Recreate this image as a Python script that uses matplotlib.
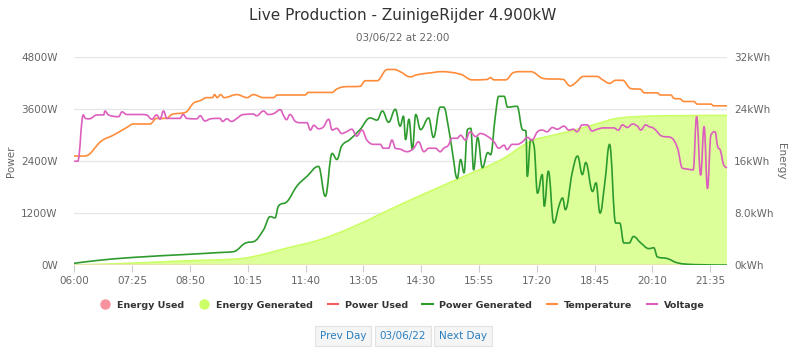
import matplotlib
matplotlib.use("Agg")
import matplotlib.pyplot as plt
from matplotlib.lines import Line2D
from matplotlib.path import Path
from matplotlib.patches import PathPatch
import numpy as np

# ---- data ----
tick_labels = ["06:00", "07:25", "08:50", "10:15", "11:40", "13:05",
               "14:30", "15:55", "17:20", "18:45", "20:10", "21:35"]

gen_times = ["06:00", "06:30", "07:25", "08:50", "09:34", "09:54", "10:14", "10:23",
             "10:38", "10:48", "10:55", "11:00", "11:13", "11:27", "11:42", "11:59",
             "12:09", "12:19", "12:26", "12:33", "12:45", "13:00", "13:15", "13:25",
             "13:33", "13:42", "13:52", "13:59", "14:04", "14:07", "14:12", "14:17",
             "14:22", "14:29", "14:41", "14:48", "14:58", "15:03", "15:11", "15:16",
             "15:23", "15:28", "15:33", "15:38", "15:43", "15:47", "15:53", "16:00",
             "16:08", "16:12", "16:19", "16:24", "16:32", "16:37", "16:51", "16:59",
             "17:04", "17:06", "17:11", "17:16", "17:21", "17:28", "17:31", "17:37",
             "17:45", "17:53", "17:58", "18:02", "18:12", "18:20", "18:27", "18:32",
             "18:42", "18:47", "18:53", "19:00", "19:07", "19:16", "19:22", "19:28",
             "19:36", "19:42", "19:53", "20:05", "20:12", "20:17", "20:32", "20:47",
             "21:11", "22:00"]
power_generated = [40, 100, 175, 250, 290, 310, 520, 540,
                   810, 1120, 1090, 1360, 1470, 1820, 2050, 2280,
                   1590, 2580, 2440, 2750, 2900, 3130, 3400, 3350,
                   3560, 3300, 3600, 3210, 3440, 2900, 3370, 2670,
                   3480, 3130, 3400, 2950, 3650, 3650, 3100, 2600,
                   2000, 2440, 2130, 3130, 3160, 2200, 2950, 2250,
                   2600, 2550, 3440, 3900, 3900, 3650, 3670, 3130,
                   3100, 2050, 2900, 2750, 1660, 2090, 1360, 2170,
                   970, 1390, 1550, 1280, 2130, 2520, 2090, 2370,
                   1700, 1900, 1200, 1900, 2790, 970, 970, 510,
                   510, 660, 510, 380, 400, 190, 150, 50,
                   10, 0]

temp_times = ["06:00", "06:15", "06:40", "06:57", "07:17", "07:27", "07:51", "08:01",
              "08:16", "08:23", "08:45", "08:55", "09:05", "09:15", "09:23", "09:26",
              "09:30", "09:35", "09:40", "09:59", "10:14", "10:23", "10:38", "10:53",
              "10:58", "11:39", "11:44", "12:19", "12:26", "12:36", "13:00", "13:08",
              "13:25", "13:40", "13:50", "13:59", "14:14", "14:24", "14:48", "14:58",
              "15:28", "15:45", "16:07", "16:12", "16:17", "16:34", "16:46", "16:56",
              "17:11", "17:30", "17:59", "18:09", "18:16", "18:29", "18:48", "18:58",
              "19:07", "19:16", "19:26", "19:38", "19:53", "19:58", "20:17", "20:22",
              "20:37", "20:42", "20:51", "20:56", "21:11", "21:16", "21:36", "21:40",
              "22:00"]
temperature = [25.2, 25.2, 28.7, 30.0, 31.8, 32.6, 32.6, 33.9,
               33.9, 34.8, 35.4, 37.4, 38.0, 38.7, 38.7, 39.4,
               38.7, 39.4, 38.7, 39.4, 38.7, 39.4, 38.7, 38.7,
               39.3, 39.3, 39.9, 39.9, 40.7, 41.2, 41.3, 42.6,
               42.6, 45.2, 45.2, 44.7, 43.5, 44.0, 44.5, 44.7,
               44.1, 42.8, 42.9, 43.3, 42.8, 42.8, 44.5, 44.7,
               44.7, 43.1, 42.9, 41.4, 42.0, 43.6, 43.6, 42.7,
               42.0, 42.7, 42.7, 40.8, 40.6, 39.8, 39.8, 39.3,
               39.3, 38.5, 38.4, 37.8, 37.8, 37.2, 37.2, 36.8,
               36.8]

volt_times = ["06:00", "06:05", "06:13", "06:16", "06:22", "06:33", "06:43", "06:45",
              "06:50", "07:05", "07:10", "07:17", "07:37", "07:46", "07:54", "08:01",
              "08:06", "08:11", "08:16", "08:35", "08:40", "08:45", "09:00", "09:05",
              "09:12", "09:20", "09:34", "09:38", "09:44", "09:51", "09:59", "10:06",
              "10:23", "10:28", "10:38", "10:45", "10:53", "11:03", "11:08", "11:12",
              "11:17", "11:25", "11:32", "11:42", "11:47", "11:52", "11:59", "12:06",
              "12:14", "12:19", "12:26", "12:33", "12:40", "12:48", "12:55", "13:03",
              "13:10", "13:20", "13:30", "13:34", "13:42", "13:47", "13:52", "13:59",
              "14:09", "14:19", "14:26", "14:34", "14:41", "14:51", "14:58", "15:03",
              "15:10", "15:15", "15:23", "15:28", "15:35", "15:42", "15:50", "15:57",
              "16:07", "16:17", "16:24", "16:32", "16:36", "16:44", "16:51", "16:59",
              "17:06", "17:13", "17:21", "17:28", "17:35", "17:43", "17:50", "18:00",
              "18:07", "18:14", "18:19", "18:27", "18:34", "18:41", "18:49", "18:58",
              "19:13", "19:20", "19:26", "19:33", "19:41", "19:48", "19:53", "20:00",
              "20:05", "20:12", "20:24", "20:37", "20:47", "20:54", "21:01", "21:10",
              "21:15", "21:21", "21:26", "21:31", "21:36", "21:42", "21:46", "21:50",
              "21:55", "22:00"]
voltage = [224.0, 224.0, 234.7, 233.9, 233.8, 234.7, 234.7, 235.6,
           234.7, 234.3, 235.4, 234.8, 234.8, 234.7, 233.7, 234.7,
           233.7, 235.6, 233.9, 233.9, 234.8, 233.9, 233.8, 234.5,
           233.3, 233.8, 233.9, 233.2, 233.8, 233.2, 233.9, 234.7,
           234.9, 234.5, 235.6, 234.8, 235.0, 235.9, 234.4, 233.6,
           234.8, 233.2, 232.9, 232.9, 231.2, 232.3, 231.5, 231.9,
           233.7, 231.2, 231.6, 230.4, 230.8, 231.4, 229.8, 231.2,
           228.9, 227.9, 227.9, 227.0, 227.0, 228.9, 227.0, 226.8,
           226.2, 227.0, 228.5, 226.2, 227.0, 227.0, 226.2, 227.0,
           227.7, 229.3, 229.3, 230.0, 228.9, 230.8, 229.7, 230.4,
           229.8, 228.5, 227.0, 227.7, 226.7, 227.9, 227.9, 228.5,
           229.5, 228.9, 230.8, 231.2, 230.8, 231.8, 231.4, 232.1,
           231.2, 231.4, 230.8, 232.4, 232.4, 231.0, 231.4, 231.7,
           231.7, 231.2, 232.4, 231.8, 232.6, 232.1, 231.2, 232.4,
           232.0, 231.6, 229.8, 229.5, 227.0, 222.4, 222.2, 222.0,
           234.3, 220.8, 232.0, 217.7, 230.0, 230.8, 227.4, 226.5,
           223.1, 222.5]

energy_times = ["06:00", "07:00", "08:00", "08:45", "09:54", "10:23", "11:12", "12:01",
                "12:50", "13:59", "14:48", "15:38", "16:27", "17:01", "17:16", "17:40",
                "18:19", "18:53", "19:13", "19:43", "20:32", "22:00"]
energy_generated = [0, 0.2, 0.45, 0.66, 0.9, 1.3, 2.6, 3.9,
                    5.9, 9.3, 11.6, 13.9, 16.2, 18.5, 19.3, 19.9,
                    20.9, 21.9, 22.5, 22.85, 23.0, 23.05]
energy_used = [0] * len(energy_times)
power_used = [0] * len(gen_times)


def to_min(times):
    return np.array([int(s[:2]) * 60 + int(s[3:]) for s in times], dtype=float)


def spline_verts(x, y, smoothing=1.5):
    # smooth curve through the points, control points clamped so it never overshoots
    x = np.asarray(x, float)
    y = np.asarray(y, float)
    n = len(x)
    lc = np.column_stack([x, y])
    rc = np.column_stack([x, y])
    d = smoothing + 1
    for i in range(1, n - 1):
        lx, ly = (smoothing * x[i] + x[i - 1]) / d, (smoothing * y[i] + y[i - 1]) / d
        rx, ry = (smoothing * x[i] + x[i + 1]) / d, (smoothing * y[i] + y[i + 1]) / d
        if rx != lx:
            corr = (ry - ly) * (rx - x[i]) / (rx - lx) + y[i] - ry
            ly += corr
            ry += corr
        if ly > max(y[i - 1], y[i]):
            ly = max(y[i - 1], y[i]); ry = 2 * y[i] - ly
        elif ly < min(y[i - 1], y[i]):
            ly = min(y[i - 1], y[i]); ry = 2 * y[i] - ly
        if ry > max(y[i + 1], y[i]):
            ry = max(y[i + 1], y[i]); ly = 2 * y[i] - ry
        elif ry < min(y[i + 1], y[i]):
            ry = min(y[i + 1], y[i]); ly = 2 * y[i] - ry
        lc[i] = (lx, ly)
        rc[i] = (rx, ry)
    verts = [(x[0], y[0])]
    codes = [Path.MOVETO]
    for i in range(1, n):
        verts += [tuple(rc[i - 1]), tuple(lc[i]), (x[i], y[i])]
        codes += [Path.CURVE4] * 3
    return verts, codes


def spline(a, x, y, color, lw=1.2, zorder=2):
    v, c = spline_verts(x, y)
    a.add_patch(PathPatch(Path(v, c), fill=False, ec=color, lw=lw, capstyle="round",
                          joinstyle="round", zorder=zorder))


GRID = "#e6e6e6"
TXT = "#666666"

fig = plt.figure(figsize=(8, 3.52), dpi=100)
ax = fig.add_axes([0.093, 0.247, 0.816, 0.59])
ax_e = ax.twinx()
ax_t = ax.twinx()
ax_v = ax.twinx()
ax_e.set_zorder(0)
ax.set_zorder(1)
ax_t.set_zorder(2)
ax_v.set_zorder(3)
for a in (ax, ax_t, ax_v):
    a.patch.set_visible(False)

# energy (right axis)
xe = to_min(energy_times)
v, c = spline_verts(xe, energy_generated)
v += [(xe[-1], 0), (xe[0], 0), (xe[0], 0)]
c += [Path.LINETO, Path.LINETO, Path.CLOSEPOLY]
ax_e.add_patch(PathPatch(Path(v, c), fc="#dcff99", ec="none"))
spline(ax_e, xe, energy_generated, "#ccff66", 1.2)
ax_e.set_ylim(0, 32)
ax_e.set_yticks([0, 8, 16, 24, 32])
ax_e.set_yticklabels(["0kWh", "8.0kWh", "16kWh", "24kWh", "32kWh"])
ax_e.grid(axis="y", color=GRID, lw=1)
ax_e.set_axisbelow(True)
ax_e.set_ylabel("Energy", rotation=270, color=TXT, fontsize=7.5, labelpad=9)

# power (left axis)
xg = to_min(gen_times)
ax.plot(xg, power_used, color="#f45b5b", lw=1.2, zorder=1)
# energy used sits on top of the (zero) power-used line, on the energy scale
ax.plot(xe, energy_used, color="#e6e4a8", lw=1.6, zorder=1.5, transform=ax_e.transData)
spline(ax, xg, power_generated, "#2e9b2e")
ax.set_ylim(0, 4800)
ax.set_yticks([0, 1200, 2400, 3600, 4800])
ax.set_yticklabels(["0W", "1200W", "2400W", "3600W", "4800W"])
ax.set_ylabel("Power", color=TXT, fontsize=7.5, labelpad=4)

# temperature / voltage on hidden scales
spline(ax_t, to_min(temp_times), temperature, "#ff8c3a")
ax_t.set_ylim(0, 48)
spline(ax_v, to_min(volt_times), voltage, "#dd5fbd")
ax_v.set_ylim(200, 248)
for a in (ax_t, ax_v):
    a.set_yticks([])

ax.set_xlim(360, 1320)
ax.set_xticks(to_min(tick_labels))
ax.set_xticklabels(tick_labels)

for a in (ax, ax_e, ax_t, ax_v):
    for s in a.spines.values():
        s.set_visible(False)
ax.tick_params(axis="x", colors="#cccccc", length=5, labelcolor=TXT, labelsize=7.5, pad=3)
ax.tick_params(axis="y", length=0, labelcolor=TXT, labelsize=7.5, pad=12)
ax_e.tick_params(axis="y", length=0, labelcolor=TXT, labelsize=7.5, pad=5)

fig.text(0.503, 0.955, "Live Production - ZuinigeRijder 4.900kW", ha="center", va="center",
         fontsize=11, color="#333333")
fig.text(0.503, 0.893, "03/06/22 at 22:00", ha="center", va="center", fontsize=7.5, color=TXT)

handles = [
    Line2D([], [], ls="none", marker="o", ms=6.5, color="#f7939e"),
    Line2D([], [], ls="none", marker="o", ms=6.5, color="#ccff66"),
    Line2D([], [], color="#f45b5b", lw=1.5),
    Line2D([], [], color="#2e9b2e", lw=1.5),
    Line2D([], [], color="#ff8c3a", lw=1.5),
    Line2D([], [], color="#dd5fbd", lw=1.5),
]
names = ["Energy Used", "Energy Generated", "Power Used", "Power Generated",
         "Temperature", "Voltage"]
leg = fig.legend(handles, names, loc="center", bbox_to_anchor=(0.503, 0.133), ncol=6,
                 frameon=False, handlelength=1.1, handletextpad=0.7, columnspacing=1.55,
                 prop={"weight": "bold", "size": 6.8})
for t in leg.get_texts():
    t.set_color("#333333")

btn = dict(boxstyle="square,pad=0.45", fc="#f5f5f5", ec="#e2e2e2", lw=0.8)
for x, label in [(0.4287, "Prev Day"), (0.5037, "03/06/22"), (0.5787, "Next Day")]:
    fig.text(x, 0.045, label, ha="center", va="center", fontsize=7.5, color="#2a7fc1", bbox=btn)

fig.savefig("out.png", dpi=100)
